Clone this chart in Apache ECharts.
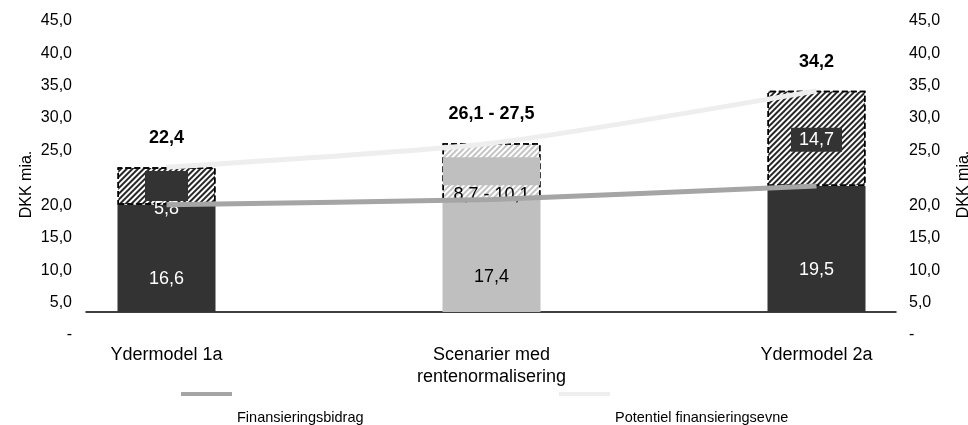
<!DOCTYPE html>
<html>
<head>
<meta charset="utf-8">
<script src="https://cdn.jsdelivr.net/npm/echarts@6/dist/echarts.min.js"></script>
<style>
  html, body { margin: 0; padding: 0; background: #fff; }
  #chart { width: 968px; height: 425px; }
</style>
</head>
<body>
<div id="chart"></div>
<script>
// Scenarios on the x axis
const categories = ['Ydermodel 1a', 'Scenarier med\nrentenormalisering', 'Ydermodel 2a'];
// Finansieringsbidrag (solid part of each bar), DKK mia.
const financing = [16.6, 17.4, 19.5];
// Additional potential on top of the contribution (low / high end of the range)
const gapLow = [5.8, 8.7, 14.7];
const gapHigh = [5.8, 10.1, 14.7];
// Potentiel finansieringsevne (total), low / high end
const potentialLow = [22.4, 26.1, 34.2];
const potentialHigh = [22.4, 27.5, 34.2];
// Value-axis tick labels, 0 .. 45 in steps of 5
const yTickLabels = ['-', '5,0', '10,0', '15,0', '20,0', '25,0', '30,0', '35,0', '40,0', '45,0'];

const fmt = v => v.toFixed(1).replace('.', ',');
const rangeText = (lo, hi) => lo === hi ? fmt(lo) : fmt(lo) + ' - ' + fmt(hi);

const FONT = '"Liberation Sans", Arial, sans-serif';
const DARK = '#333333';
const GREY = '#bfbfbf';

// Per-bar styling
const baseColors = [DARK, GREY, DARK];
const baseTextColors = ['#fff', '#000', '#fff'];
const hatchColors = ['#262626', '#c4c4c4', '#262626'];

const gapLabels = [
  { // small dark tag centred in the range, value text beneath it
    formatter: '{box| }\n{t|' + rangeText(gapLow[0], gapHigh[0]) + '}',
    offset: [0, 8],
    rich: {
      box: { width: 43, height: 30, backgroundColor: DARK },
      t: { color: '#fff', fontSize: 18, lineHeight: 16, fontFamily: FONT }
    }
  },
  {
    formatter: '{box| }\n{t|' + rangeText(gapLow[1], gapHigh[1]) + '}',
    offset: [0, 10],
    rich: {
      box: { width: 97, height: 28, backgroundColor: GREY },
      t: { color: '#000', fontSize: 18, lineHeight: 20, fontFamily: FONT }
    }
  },
  {
    formatter: '{b|' + rangeText(gapLow[2], gapHigh[2]) + '}',
    offset: [0, 1.5],
    rich: {
      b: { color: '#fff', backgroundColor: DARK, fontSize: 18, lineHeight: 18, padding: [3, 8], fontFamily: FONT }
    }
  }
];

const hatch = color => ({
  symbol: 'rect',
  symbolSize: 1,
  dashArrayX: [1, 0],
  dashArrayY: [2, 2],
  rotation: -Math.PI / 4,
  color: color
});

const yCommon = {
  type: 'value', min: 0, max: 45, interval: 5,
  axisLine: { show: false }, axisTick: { show: false }, splitLine: { show: false }
};
const nameStyle = { fontSize: 16, color: '#000', fontFamily: FONT, padding: [0, 0, 0, 10] };
const upperLabel = v => (v >= 25 ? yTickLabels[Math.round(v / 5)] : '');
const lowerLabel = v => (v <= 20 ? yTickLabels[Math.round(v / 5)] : '');
const yLabelStyle = { fontSize: 16, color: '#000', fontFamily: FONT };
const hiddenX = { type: 'value', min: 0, max: 1, axisLabel: { show: false }, axisTick: { show: false }, splitLine: { show: false } };

const option = {
  animation: false,
  textStyle: { fontFamily: FONT },
  grid: [
    // bars and lines: three equal category bands, wider than the framed area
    { left: 4, width: 975, top: 21, height: 291, outerBoundsMode: 'none' },
    // framed plot area carrying the axis line and the upper tick labels
    { left: 86, right: 72, top: 21, height: 291, outerBoundsMode: 'none' },
    // lower tick labels sit a little below their gridline positions
    { left: 86, right: 72, top: 44, height: 291, outerBoundsMode: 'none' }
  ],
  xAxis: [
    {
      type: 'category', gridIndex: 0, data: categories,
      axisLine: { show: false }, axisTick: { show: false }, splitLine: { show: false },
      axisLabel: { fontSize: 18, lineHeight: 22, color: '#000', margin: 32, fontFamily: FONT, interval: 0 }
    },
    Object.assign({}, hiddenX, { gridIndex: 1,
      axisLine: { show: true, onZero: false, lineStyle: { color: '#000', width: 1.5 } } }),
    Object.assign({}, hiddenX, { gridIndex: 2, axisLine: { show: false } })
  ],
  yAxis: [
    Object.assign({}, yCommon, { gridIndex: 0, show: false }),
    Object.assign({}, yCommon, { gridIndex: 1, position: 'left',
      axisLabel: Object.assign({ margin: 14, formatter: upperLabel }, yLabelStyle) }),
    Object.assign({}, yCommon, { gridIndex: 1, position: 'right',
      axisLabel: Object.assign({ margin: 13, formatter: upperLabel }, yLabelStyle) }),
    Object.assign({}, yCommon, { gridIndex: 2, position: 'left',
      name: 'DKK mia.', nameLocation: 'middle', nameGap: 51, nameRotate: 90,
      nameMoveOverlap: false, nameTextStyle: nameStyle,
      axisLabel: Object.assign({ margin: 14, formatter: lowerLabel }, yLabelStyle) }),
    Object.assign({}, yCommon, { gridIndex: 2, position: 'right',
      name: 'DKK mia.', nameLocation: 'middle', nameGap: 60, nameRotate: 90,
      nameMoveOverlap: false, nameTextStyle: nameStyle,
      axisLabel: Object.assign({ margin: 13, formatter: lowerLabel }, yLabelStyle) })
  ],
  legend: [
    {
      data: ['Finansieringsbidrag'], left: 181, top: 346, padding: 0,
      icon: 'rect', itemWidth: 51, itemHeight: 4,
      formatter: name => '\n' + name,
      textStyle: { fontSize: 14.5, lineHeight: 48, color: '#000', fontFamily: FONT }
    },
    {
      data: ['Potentiel finansieringsevne'], left: 559, top: 346, padding: 0,
      icon: 'rect', itemWidth: 51, itemHeight: 4,
      formatter: name => '\n' + name,
      textStyle: { fontSize: 14.5, lineHeight: 48, color: '#000', fontFamily: FONT }
    }
  ],
  series: [
    {
      name: 'base', type: 'bar', stack: 'total', barWidth: 98,
      xAxisIndex: 0, yAxisIndex: 0,
      data: financing.map((v, i) => ({
        value: v,
        itemStyle: { color: baseColors[i] },
        label: { color: baseTextColors[i] }
      })),
      label: {
        show: true, position: 'inside', offset: [0, 21],
        fontSize: 18, fontFamily: FONT,
        formatter: p => fmt(financing[p.dataIndex])
      }
    },
    {
      name: 'gap', type: 'bar', stack: 'total', barWidth: 98,
      xAxisIndex: 0, yAxisIndex: 0,
      data: gapLow.map((v, i) => ({
        value: v,
        itemStyle: {
          color: '#fff',
          decal: hatch(hatchColors[i]),
          borderColor: '#000', borderWidth: 1.5, borderType: [6, 3]
        },
        label: Object.assign({ show: true, position: 'inside' }, gapLabels[i])
      }))
    },
    {
      name: 'Finansieringsbidrag', type: 'line', z: 3, smooth: 0.2,
      xAxisIndex: 0, yAxisIndex: 0,
      color: '#a5a5a5',
      symbol: 'none',
      lineStyle: { color: '#a5a5a5', width: 5 },
      data: financing
    },
    {
      name: 'Potentiel finansieringsevne', type: 'line', z: 3, smooth: 0.2,
      xAxisIndex: 0, yAxisIndex: 0,
      color: '#eeeeee',
      symbol: 'circle', symbolSize: 0.01, showSymbol: true,
      lineStyle: { color: '#eeeeee', width: 5 },
      data: potentialLow,
      label: {
        show: true, position: 'top', distance: 20,
        fontSize: 18, fontWeight: 'bold', color: '#000', fontFamily: FONT,
        formatter: p => rangeText(potentialLow[p.dataIndex], potentialHigh[p.dataIndex])
      }
    }
  ]
};

const chart = echarts.init(document.getElementById('chart'), null, { renderer: 'canvas' });
chart.setOption(option);
</script>
</body>
</html>
